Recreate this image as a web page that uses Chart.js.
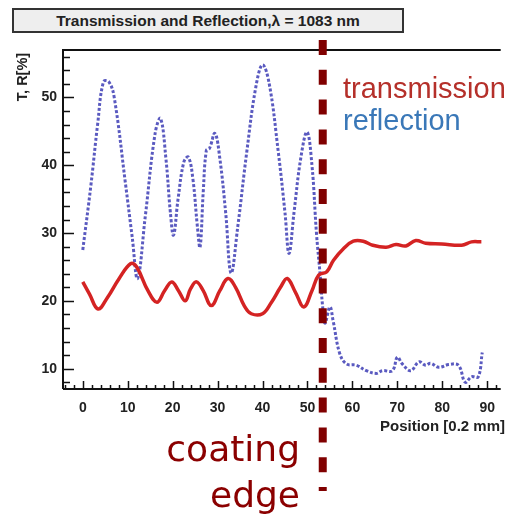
<!DOCTYPE html>
<html><head><meta charset="utf-8">
<script src="https://cdn.jsdelivr.net/npm/chart.js@4/dist/chart.umd.min.js"></script>
<style>
html,body{margin:0;padding:0;background:#fff;}
#wrap{position:relative;width:506px;height:517px;overflow:hidden;background:#fff;}
#c{position:absolute;left:0;top:0;}
.title{position:absolute;left:12px;top:8px;width:392px;height:25px;background:#eeeeee;border:2px solid #333;box-sizing:border-box;font:bold 15.5px "Liberation Sans",Arial,sans-serif;text-align:center;line-height:21px;color:#222;white-space:nowrap;}
.leg{position:absolute;left:343px;font:29px "Liberation Sans",Arial,sans-serif;white-space:nowrap;line-height:32px;}
.ytitle{position:absolute;left:-8px;top:68px;width:60px;height:18px;transform:rotate(-90deg);font:bold 14.5px "Liberation Sans",Arial,sans-serif;color:#222;text-align:center;white-space:nowrap;line-height:18px;}
.xtitle{position:absolute;right:1px;top:417px;font:bold 15px "Liberation Sans",Arial,sans-serif;color:#222;white-space:nowrap;}
.edge{position:absolute;right:206px;font:36px "DejaVu Sans",sans-serif;color:#8b0000;text-align:right;white-space:nowrap;}
</style>
</head><body>
<div id="wrap">
<canvas id="c" width="506" height="517"></canvas>
<div class="title">Transmission and Reflection,λ = 1083 nm</div>
<div class="leg" style="top:72px;color:#b5302a;">transmission</div>
<div class="leg" style="top:104px;color:#3a78b8;">reflection</div>
<div class="ytitle">T, R[%]</div>
<div class="xtitle">Position [0.2 mm]</div>
<div class="edge" style="top:428px;">coating</div>
<div class="edge" style="top:474px;">edge</div>
</div>
<script>
// ---- data ----
const positionsT = [0,1.5,3.4,5.5,8,10.7,12,14.5,16.5,18.2,19.8,21.3,22.8,24,25.3,26.8,28.6,30.5,32.3,34,36,37.5,40,42,44,45.5,47.3,49.2,51,52.5,54.3,55.8,58,60.2,62.4,64.5,67.5,69.7,71.9,74.1,76.3,79.9,84.3,86.5,88.7];
const transmission = [22.8,21,18.8,20.5,23.2,25.5,25,21.5,19.8,21.5,22.8,21.5,20.0,21.8,22.8,21.5,19.3,21.5,23.3,22,19.2,18.1,18.1,19.8,22,23.3,21.3,19.1,21.5,23.8,24.3,26,27.7,28.8,28.8,28.2,27.9,28.3,28.1,28.9,28.5,28.4,28.2,28.7,28.7];
const positionsR = [0,1.8,3.3,4.6,5.8,7,9.5,11,12.2,13.9,16.1,17.3,18.5,19.5,20.2,21.2,22.5,23.5,24.5,25.5,26.1,26.8,27.5,28.2,29.4,30.5,31.8,33,34.5,36.5,38.5,40,41.5,43.5,45,45.9,47,48.5,49.9,51,52,52.8,53.4,53.9,55,55.7,57.2,58.7,60.9,63.1,65.3,66.7,68.9,70,71.1,73,74.8,76.3,77.4,79.2,81.4,83.6,85.1,86.5,88,88.9];
const reflection = [27.5,37,46,52.3,52.3,50,37.3,29.4,23.3,32.4,44.7,46.9,41,33,29.7,35,40.5,41.2,38,31,27.9,36,42.2,42.5,44.7,41,33,24.1,31,42,51.5,54.8,52,42,33,27,33,41,44.9,40,30,24,19,16.7,19.1,17.1,12.2,10.7,10.5,9.7,9.3,9.7,9.7,11.7,10.7,9.7,11,10.5,10.8,10.2,10.6,10.5,8.0,8.8,8.8,12.4];
const xTickLabels = [0,10,20,30,40,50,60,70,80,90];
const yTickLabels = [10,20,30,40,50];
const coatingEdge = 53.4;
// --------------------------------------

const framePlugin = {
  id:'frame',
  afterDraw(chart){
    const {ctx, chartArea:a, scales:{x,y}} = chart;
    ctx.save();
    ctx.strokeStyle = '#111';
    ctx.lineWidth = 2;
    ctx.beginPath();
    ctx.moveTo(a.left, a.bottom); ctx.lineTo(a.left, a.top); ctx.lineTo(a.right, a.top);
    ctx.moveTo(a.left, a.bottom); ctx.lineTo(a.right, a.bottom);
    ctx.stroke();
    ctx.lineWidth = 1.5;
    ctx.beginPath();
    for (let v = 8; v <= 56; v += 2) {
      const p = Math.round(y.getPixelForValue(v)) + 0.5;
      const len = (v % 10 === 0) ? 11 : 7;
      ctx.moveTo(a.left, p); ctx.lineTo(a.left + len, p);
    }
    for (let v = -4; v <= 92; v += 2) {
      const p = Math.round(x.getPixelForValue(v)) + 0.5;
      const len = (v % 10 === 0) ? 8 : 4;
      ctx.moveTo(p, a.bottom); ctx.lineTo(p, a.bottom - len);
    }
    ctx.stroke();
    const ex = x.getPixelForValue(coatingEdge);
    ctx.strokeStyle = '#800000';
    ctx.lineWidth = 8;
    ctx.setLineDash([15, 14.8]);
    ctx.beginPath();
    ctx.moveTo(ex, 40); ctx.lineTo(ex, 491);
    ctx.stroke();
    ctx.restore();
  }
};

const tickFont = {family:'"Liberation Sans", Arial, sans-serif', size:14, weight:'bold'};

new Chart(document.getElementById('c'), {
  type:'line',
  data:{datasets:[
    {label:'transmission', data: positionsT.map((v,i)=>({x:v, y:transmission[i]})),
     borderColor:'#d42323', borderWidth:3.5, pointRadius:0, tension:0.4, fill:false},
    {label:'reflection', data: positionsR.map((v,i)=>({x:v, y:reflection[i]})),
     borderColor:'#5a5ac0', borderWidth:3, borderDash:[3,2], pointRadius:0, tension:0.4, fill:false}
  ]},
  options:{
    responsive:false, animation:false,
    layout:{padding:{top:50,left:0,right:0,bottom:0}},
    plugins:{legend:{display:false}, title:{display:false}, tooltip:{enabled:false}},
    scales:{
      x:{type:'linear', min:-4.4, max:93,
         afterBuildTicks:s=>{s.ticks = xTickLabels.map(v=>({value:v}));},
         afterFit:s=>{s.height = 517-389;},
         grid:{display:false, drawTicks:false}, border:{display:false},
         ticks:{padding:11, font:tickFont, color:'#222', maxRotation:0, autoSkip:false}},
      y:{type:'linear', min:7, max:57,
         afterBuildTicks:s=>{s.ticks = yTickLabels.map(v=>({value:v}));},
         afterFit:s=>{s.width = 63;},
         grid:{display:false, drawTicks:false}, border:{display:false},
         ticks:{padding:6, font:tickFont, color:'#222', autoSkip:false}}
    }
  },
  plugins:[framePlugin]
});
</script>
</body></html>
